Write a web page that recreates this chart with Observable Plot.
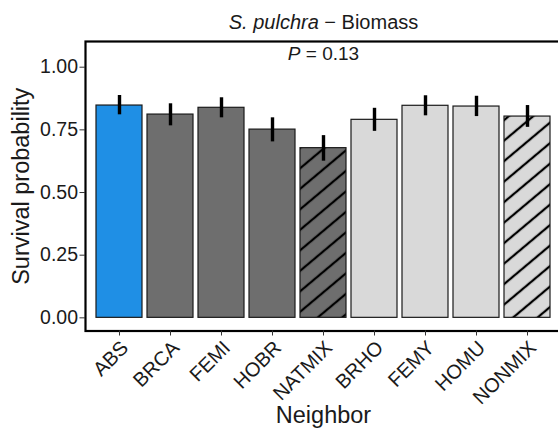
<!DOCTYPE html>
<html>
<head>
<meta charset="utf-8">
<script src="https://cdn.jsdelivr.net/npm/d3@7"></script>
<script src="https://cdn.jsdelivr.net/npm/@observablehq/plot@0.6"></script>
<style>
  html, body { margin: 0; padding: 0; background: #fff; overflow: hidden; }
  #chart { width: 558px; overflow: hidden; }
  #chart svg { display: block; max-width: none !important; font-family: "Liberation Sans", Arial, sans-serif; }
</style>
</head>
<body>
<div id="chart"></div>
<script>
// Survival probability of S. pulchra by neighbor treatment (mean ± CI)
const neighbors = ["ABS", "BRCA", "FEMI", "HOBR", "NATMIX", "BRHO", "FEMY", "HOMU", "NONMIX"];
const survival  = [0.847, 0.811, 0.838, 0.751, 0.677, 0.790, 0.846, 0.843, 0.803];
const ciLow     = [0.810, 0.766, 0.798, 0.702, 0.625, 0.744, 0.806, 0.803, 0.760];
const ciHigh    = [0.887, 0.854, 0.878, 0.798, 0.727, 0.836, 0.886, 0.884, 0.847];
const groups    = ["absent", "native", "native", "native", "native mix",
                   "non-native", "non-native", "non-native", "non-native mix"];
const yTicks    = [0, 0.25, 0.5, 0.75, 1];
const titleText = "S. pulchra − Biomass";
const pText     = "P = 0.13";

const rows = neighbors.map((n, i) => ({
  neighbor: n, survival: survival[i], low: ciLow[i], high: ciHigh[i], group: groups[i]
}));

const groupFill = {
  "absent": "#1f8fe5",
  "native": "#6e6e6e",
  "native mix": "url(#hatch-dark)",
  "non-native": "#d9d9d9",
  "non-native mix": "url(#hatch-light)"
};

const ink = "#1a1a1a";

const svg = Plot.plot({
  width: 561,
  height: 439,
  marginLeft: 85,
  marginRight: 0,
  marginTop: 41,
  marginBottom: 108.5,
  style: {fontFamily: "Liberation Sans, Arial, sans-serif", color: ink, background: "white"},
  x: {type: "band", domain: neighbors, paddingInner: 0.1, paddingOuter: 0.15},
  y: {domain: [-0.0525, 1.1025]},
  color: {type: "identity"},
  marks: [
    Plot.barY(rows, {
      x: "neighbor", y1: 0, y2: "survival",
      fill: d => groupFill[d.group],
      stroke: ink, strokeWidth: 1.2
    }),
    Plot.ruleX(rows, {x: "neighbor", y1: "low", y2: "high", stroke: "black", strokeWidth: 3.4}),
    Plot.frame({stroke: "black", strokeWidth: 2.2}),
    Plot.axisY({
      ticks: yTicks, tickFormat: d3.format(".2f"), tickSize: 5.5, tickPadding: 2,
      fontSize: 19.5, label: null, stroke: "#333", fill: ink
    }),
    Plot.axisX({
      tickSize: 5, tickPadding: 3, tickRotate: -45, fontSize: 20, label: null,
      textAnchor: "end", lineAnchor: "top",
      stroke: "#333", fill: ink
    }),
    Plot.text([titleText], {
      frameAnchor: "top", dy: -19, lineAnchor: "middle", fontSize: 20, fill: ink
    }),
    Plot.text([pText], {
      frameAnchor: "top", dy: 12, lineAnchor: "middle", fontSize: 19, fill: ink
    }),
    Plot.text(["Survival probability"], {
      frameAnchor: "left", dx: -64, rotate: -90, textAnchor: "middle", lineAnchor: "middle",
      fontSize: 23.5, fill: ink
    }),
    Plot.text(["Neighbor"], {
      frameAnchor: "bottom", dy: 84, lineAnchor: "middle", fontSize: 23.5, fill: ink
    })
  ]
});

// Diagonal hatching used by the mixed-neighbor bars
const defs = d3.select(svg).insert("defs", ":first-child");
[["hatch-dark", "#6e6e6e"], ["hatch-light", "#d9d9d9"]].forEach(([id, bg]) => {
  const p = defs.append("pattern")
    .attr("id", id)
    .attr("patternUnits", "userSpaceOnUse")
    .attr("width", 16)
    .attr("height", 15.7)
    .attr("patternTransform", "rotate(-40)");
  p.append("rect").attr("width", 16).attr("height", 15.7).attr("fill", bg);
  p.append("line")
    .attr("x1", 0).attr("x2", 16)
    .attr("y1", 7.85).attr("y2", 7.85)
    .attr("stroke", "black").attr("stroke-width", 2.3);
});

// Italicise the species name and the P symbol
function italicLead(full, lead) {
  d3.select(svg).selectAll("text")
    .filter(function () { return this.textContent === full; })
    .each(function () {
      const t = d3.select(this);
      t.text(null);
      t.append("tspan").attr("font-style", "italic").text(lead);
      t.append("tspan").text(full.slice(lead.length));
    });
}
italicLead(titleText, "S. pulchra");
italicLead(pText, "P");

document.getElementById("chart").appendChild(svg);
</script>
</body>
</html>
